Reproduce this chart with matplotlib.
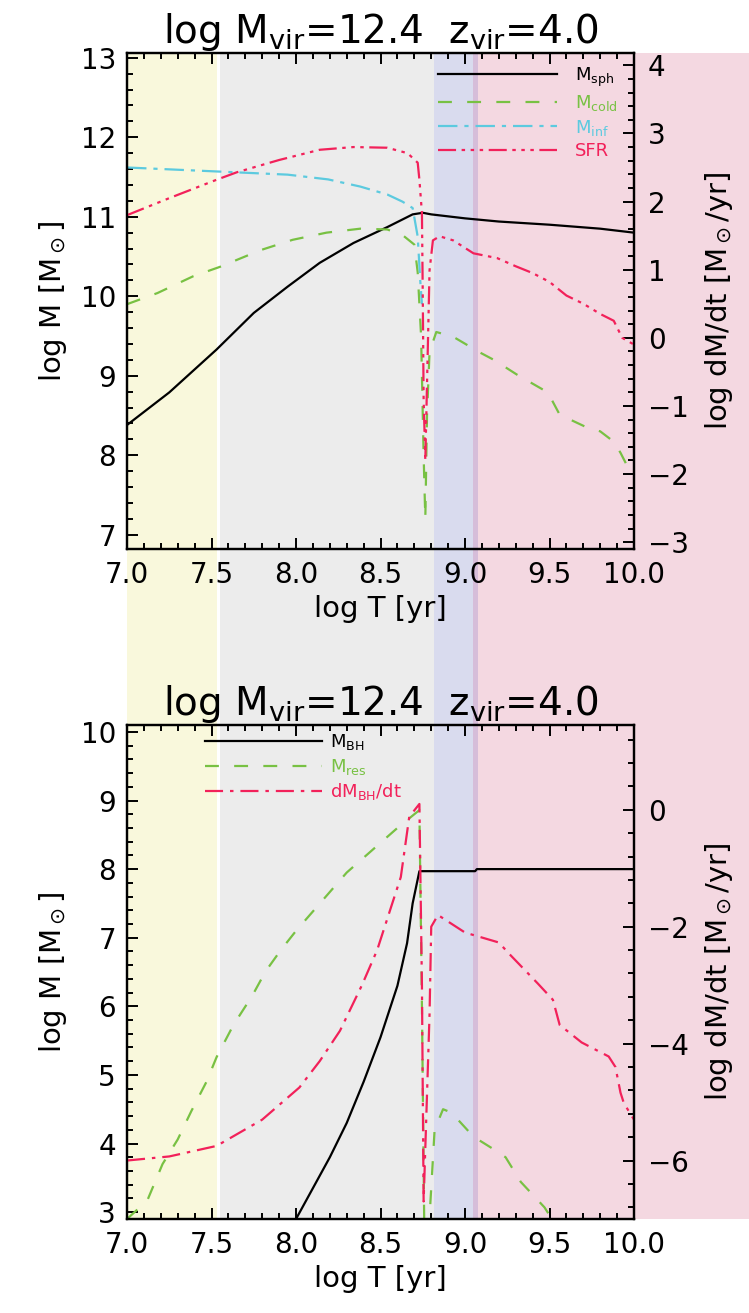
import matplotlib
matplotlib.use("Agg")
import matplotlib.pyplot as plt
from matplotlib.ticker import MultipleLocator, AutoMinorLocator, FormatStrFormatter
from matplotlib.patches import Rectangle
from matplotlib.transforms import blended_transform_factory

plt.rcParams['font.family'] = ['DejaVu Sans']
plt.rcParams['mathtext.default'] = 'regular'
plt.rcParams['lines.scale_dashes'] = False

# -------- data --------
# upper panel: log M (left axis) and SFR (right axis) vs log T
T_SPH = [7.0, 7.25, 7.53, 7.75, 7.95, 8.14, 8.34, 8.54, 8.69, 8.75, 8.8, 9.0, 9.2, 9.5, 9.8, 10.0]
M_SPH = [8.38, 8.79, 9.33, 9.79, 10.12, 10.42, 10.67, 10.87, 11.03, 11.05, 11.03, 10.98, 10.94, 10.9, 10.85, 10.8]

T_COLD = [7.0, 7.18, 7.39, 7.55, 7.79, 7.98, 8.18, 8.38, 8.54, 8.63, 8.70, 8.72, 8.74, 8.755, 8.765,
          8.775, 8.79, 8.83, 8.93, 9.01, 9.09, 9.17, 9.31, 9.49, 9.56, 9.72, 9.8, 9.88, 9.92, 9.98, 10.0]
M_COLD = [9.9, 10.04, 10.25, 10.37, 10.58, 10.71, 10.8, 10.85, 10.84, 10.77, 10.65, 10.3, 9.5, 8.0, 7.2,
          8.5, 9.3, 9.55, 9.49, 9.39, 9.29, 9.2, 9.01, 8.79, 8.51, 8.35, 8.3, 8.17, 8.03, 7.78, 7.75]

T_INF = [7.0, 7.53, 7.95, 8.19, 8.38, 8.54, 8.63, 8.69, 8.72, 8.735, 8.745]
M_INF = [11.62, 11.57, 11.53, 11.47, 11.38, 11.28, 11.19, 11.11, 10.75, 10.2, 9.9]

T_SFR = [7.0, 7.25, 7.53, 7.65, 7.9, 8.14, 8.34, 8.54, 8.66, 8.72, 8.73, 8.745, 8.75, 8.755, 8.765,
         8.79, 8.81, 8.85, 8.93, 9.05, 9.19, 9.3, 9.4, 9.5, 9.6, 9.7, 9.8, 9.88, 9.93, 10.0]
SFR = [1.8, 2.05, 2.32, 2.43, 2.61, 2.76, 2.8, 2.79, 2.71, 2.57, 2.32, 1.83, 0.6, -0.9, -1.8,
       0.99, 1.43, 1.49, 1.43, 1.24, 1.17, 1.05, 0.95, 0.82, 0.62, 0.5, 0.35, 0.25, 0.0, -0.1]

# lower panel: black hole mass, reservoir mass, accretion rate
T_BH = [8.0, 8.1, 8.2, 8.3, 8.4, 8.5, 8.6, 8.657, 8.69, 8.73, 9.06, 9.07, 10.0]
M_BH = [2.9, 3.35, 3.8, 4.3, 4.9, 5.55, 6.3, 6.92, 7.5, 7.97, 7.97, 8.0, 8.0]

T_RES = [7.0, 7.12, 7.21, 7.3, 7.38, 7.47, 7.53, 7.63, 7.74, 7.82, 7.91, 8.0, 8.3, 8.6, 8.73,
         8.745, 8.76, 8.78, 8.82, 8.87, 8.92, 9.05, 9.18, 9.24, 9.33, 9.47, 9.54]
M_RES = [2.9, 3.17, 3.7, 4.06, 4.47, 4.9, 5.26, 5.73, 6.15, 6.51, 6.82, 7.1, 7.95, 8.6, 8.86,
         6.0, 2.5, 2.5, 4.2, 4.5, 4.45, 4.1, 3.9, 3.8, 3.44, 3.07, 2.8]

T_DBH = [7.0, 7.25, 7.53, 7.8, 8.02, 8.14, 8.26, 8.39, 8.48, 8.62, 8.67, 8.73, 8.745, 8.755,
         8.79, 8.8, 8.84, 9.0, 9.2, 9.26, 9.43, 9.52, 9.56, 9.69, 9.85, 9.89, 9.92, 9.94, 10.0]
DBH = [-6.0, -5.93, -5.75, -5.3, -4.75, -4.3, -3.78, -3.0, -2.4, -1.15, -0.12, 0.1, -3.0, -6.7,
       -3.5, -2.0, -1.8, -2.1, -2.27, -2.46, -2.97, -3.25, -3.68, -3.98, -4.22, -4.4, -4.84, -5.02, -5.3]

# evolutionary phases shaded across both panels (log T ranges)
BAND_EDGES = [(7.0, 7.53), (7.55, 8.817), (8.817, 9.047), (9.047, 9.077), (9.077, 11.0)]
BAND_COLORS = ['#f9f8dc', '#ececec', '#d9dbee', '#d6bdd9', '#f4d8e1']

TITLE = r'log M$_{vir}$=12.4  z$_{vir}$=4.0'

BLACK = '#000000'
GREEN = '#78c143'
CYAN = '#5ccadf'
RED = '#f2215a'

fig = plt.figure(figsize=(7.49, 13.13), dpi=100)

ax1 = fig.add_axes([0.1696, 0.5819, 0.6769, 0.3777])
ax2 = fig.add_axes([0.1696, 0.0716, 0.6769, 0.3762])
ax1r = ax1.twinx()
ax2r = ax2.twinx()

for a in (ax1, ax2, ax1r, ax2r):
    a.patch.set_visible(False)
    for s in a.spines.values():
        s.set_linewidth(1.6)

# background phase bands spanning both panels
tr = blended_transform_factory(ax1.transData, fig.transFigure)
y_lo, y_hi = 0.0716, 0.9596
for (x0, x1), c in zip(BAND_EDGES, BAND_COLORS):
    r = Rectangle((x0, y_lo), x1 - x0, y_hi - y_lo, transform=tr,
                  facecolor=c, edgecolor='none', zorder=-5, clip_on=False)
    fig.add_artist(r)

LW = 1.6
# ---- top panel ----
l1, = ax1.plot(T_SPH, M_SPH, color=BLACK, lw=LW, label=r'M$_{sph}$')
l2, = ax1.plot(T_COLD, M_COLD, color=GREEN, lw=LW, dashes=(10, 11), label=r'M$_{cold}$')
l3, = ax1.plot(T_INF, M_INF, color=CYAN, lw=LW, dashes=(14, 5, 3, 5), label=r'M$_{inf}$')
l4, = ax1r.plot(T_SFR, SFR, color=RED, lw=LW, dashes=(13, 4, 2.5, 4, 2.5, 4, 2.5, 4), label='SFR')

ax1.set_xlim(7.0, 10.0)
ax1.set_ylim(6.82, 13.06)
ax1r.set_ylim(-3.1, 4.18)

# ---- bottom panel ----
m1, = ax2.plot(T_BH, M_BH, color=BLACK, lw=LW, label=r'M$_{BH}$')
m2, = ax2.plot(T_RES, M_RES, color=GREEN, lw=LW, dashes=(10, 11), label=r'M$_{res}$')
m3, = ax2r.plot(T_DBH, DBH, color=RED, lw=LW, dashes=(13, 5, 2.5, 5), label=r'dM$_{BH}$/dt')

ax2.set_xlim(7.0, 10.0)
ax2.set_ylim(2.9, 10.1)
ax2r.set_ylim(-7.0, 1.45)

TICK_FS = 20
LABEL_FS = 21
for a in (ax1, ax2):
    a.xaxis.set_major_locator(MultipleLocator(0.5))
    a.xaxis.set_minor_locator(AutoMinorLocator(5))
    a.xaxis.set_major_formatter(FormatStrFormatter('%.1f'))
    a.yaxis.set_major_locator(MultipleLocator(1))
    a.yaxis.set_minor_locator(AutoMinorLocator(5))
    a.tick_params(axis='x', which='both', direction='in', top=True, bottom=True,
                  labelsize=TICK_FS, pad=9)
    a.tick_params(axis='y', which='both', direction='in', left=True, right=False,
                  labelsize=TICK_FS, pad=8)
    a.tick_params(which='major', length=8, width=1.4)
    a.tick_params(which='minor', length=4.5, width=1.4)
    a.set_xlabel('log T [yr]', fontsize=LABEL_FS, labelpad=4)
    a.set_ylabel(r'log M [M$_\odot$]', fontsize=LABEL_FS, labelpad=8)
    a.set_title(TITLE, fontsize=28, pad=6)

ax1r.yaxis.set_major_locator(MultipleLocator(1))
ax1r.yaxis.set_minor_locator(AutoMinorLocator(5))
ax2r.yaxis.set_major_locator(MultipleLocator(2))
ax2r.yaxis.set_minor_locator(AutoMinorLocator(5))
for a in (ax1r, ax2r):
    a.tick_params(axis='y', which='both', direction='in', right=True, left=False,
                  labelsize=TICK_FS, pad=10)
    a.tick_params(which='major', length=8, width=1.4)
    a.tick_params(which='minor', length=4.5, width=1.4)
    a.set_ylabel(r'log dM/dt [M$_\odot$/yr]', fontsize=LABEL_FS, rotation=90, labelpad=10)

# legends
leg1 = ax1r.legend(handles=[l1, l2, l3, l4], loc='upper left', bbox_to_anchor=(0.613, 0.975),
                   frameon=False, fontsize=13, handlelength=6.6, handletextpad=1.0,
                   labelspacing=0.25, borderpad=0, borderaxespad=0, labelcolor='linecolor')
leg2 = ax2r.legend(handles=[m1, m2, m3], loc='upper left', bbox_to_anchor=(0.154, 0.985),
                   frameon=False, fontsize=13, handlelength=6.5, handletextpad=0.4,
                   labelspacing=0.25, borderpad=0, borderaxespad=0, labelcolor='linecolor')

fig.savefig('out.png', dpi=100)
